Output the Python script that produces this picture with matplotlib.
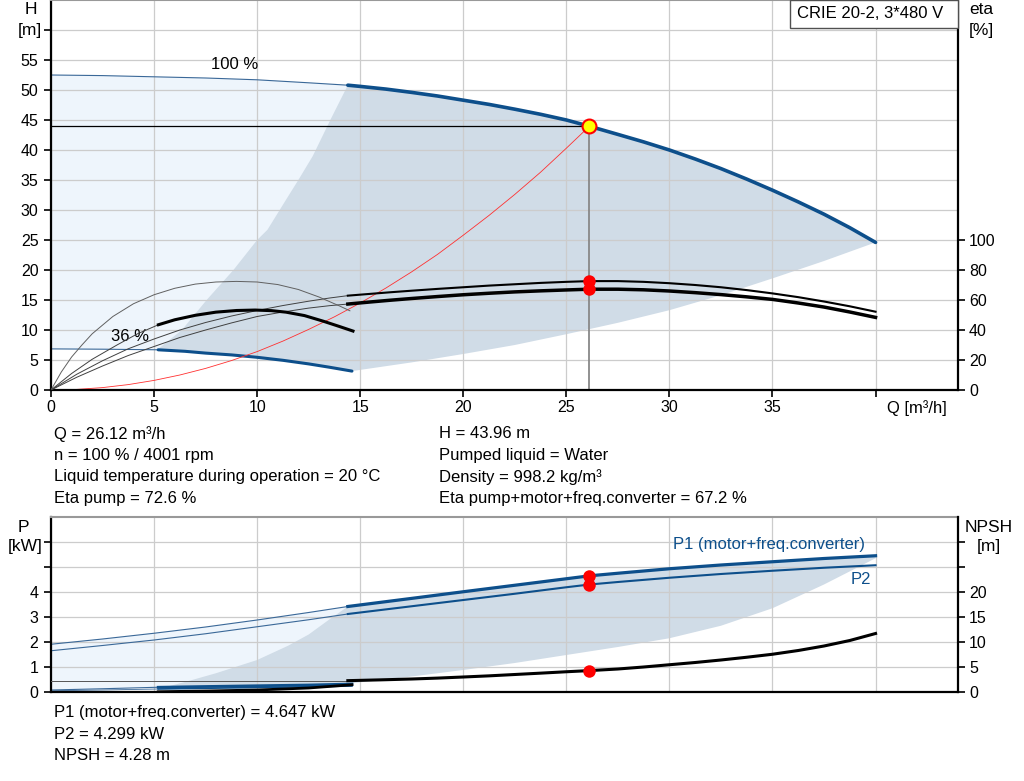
import matplotlib
matplotlib.use("Agg")
import matplotlib.pyplot as plt
import matplotlib.patches as patches

plt.rcParams['font.family'] = ['Liberation Sans', 'DejaVu Sans']

# %%
# Data
# Q-H curve at 100 % speed (thin part = outside allowed range)
q_h100_thin = [0, 2.5, 5, 7.5, 10, 12.5, 14.4]
h100_thin = [52.5, 52.4, 52.2, 52.0, 51.7, 51.2, 50.8]
q_h100 = [14.4, 15, 16.25, 17.5, 18.75, 20, 21.25, 22.5, 23.75, 25, 26.12, 27.5,
          28.75, 30, 31.25, 32.5, 33.75, 35, 36.25, 37.5, 38.75, 40]
h100 = [50.8, 50.6, 50.15, 49.6, 49.0, 48.3, 47.6, 46.8, 45.95, 45.0, 43.96, 42.6,
        41.35, 40.0, 38.5, 36.9, 35.15, 33.3, 31.35, 29.3, 27.05, 24.6]

# Q-H curve at 36 % speed
q_h36_thin = [0, 2.5, 5.2]
h36_thin = [6.85, 6.8, 6.7]
q_h36 = [5.2, 6.5, 7.5, 8.75, 10, 11.25, 12.5, 13.5, 14.6]
h36 = [6.7, 6.45, 6.15, 5.85, 5.45, 4.95, 4.35, 3.8, 3.15]

# operating range boundaries (dark area)
q_bound_left = [5.15, 6.35, 7.55, 8.85, 10.0, 10.5, 11.4, 12.0, 12.7, 13.55, 14.4]
h_bound_left = [6.7, 10.0, 15.0, 20.0, 25.0, 26.7, 31.7, 35.0, 39.0, 45.0, 50.8]
q_bound_low = [14.6, 17.5, 20, 22.5, 25, 27.5, 30, 32.5, 35, 37.5, 40]
h_bound_low = [3.15, 4.6, 6.0, 7.5, 9.3, 11.2, 13.3, 15.8, 18.6, 21.5, 24.6]

# system curve
q_sys = [0, 1.25, 2.5, 3.75, 5, 6.25, 7.5, 8.75, 10, 11.25, 12.5, 13.75, 15, 16.25,
         17.5, 18.75, 20, 21.25, 22.5, 23.75, 25, 26.12]
h_sys = [0, 0.1, 0.4, 0.9, 1.6, 2.5, 3.6, 4.9, 6.4, 8.15, 10.1, 12.2, 14.5, 17.0,
         19.7, 22.6, 25.8, 29.1, 32.6, 36.3, 40.3, 43.96]

# efficiency curves [%]
q_eta_thin = [0, 1.25, 2.5, 3.75, 5, 6.25, 7.5, 8.75, 10, 11.25, 12.5, 13.5, 14.4]
eta_pump_thin = [0, 10.5, 19.5, 27.5, 34, 40, 45, 49.3, 53, 56.3, 59.2, 61.3, 62.9]
eta_tot_thin = [0, 8.5, 16, 23, 29, 35, 40, 44.7, 49, 52, 54.6, 56.2, 57.3]
q_eta = [14.4, 15.5, 16.5, 17.5, 18.75, 20, 21.25, 22.5, 23.75, 25, 26.12, 27.5,
         28.75, 30, 31.25, 32.5, 33.75, 35, 36.25, 37.5, 38.75, 40]
eta_pump = [62.9, 64.1, 65.2, 66.2, 67.4, 68.5, 69.6, 70.5, 71.4, 72.1, 72.6, 72.6,
            72.1, 71.2, 70.0, 68.5, 66.6, 64.4, 61.9, 59.0, 55.8, 52.2]
eta_tot = [57.3, 58.7, 59.9, 61.0, 62.3, 63.5, 64.5, 65.4, 66.1, 66.7, 67.2, 67.2,
           66.8, 66.0, 64.9, 63.6, 62.1, 60.4, 58.0, 55.3, 52.0, 48.4]
q_eta36_pump = [0, 0.5, 1, 1.5, 2, 3, 4, 5, 6, 7, 8, 9, 10, 11, 12, 13, 14, 14.5]
eta36_pump = [0, 12, 22, 30, 37.5, 49, 57.5, 63.5, 67.8, 70.6, 72.0, 72.4, 72.0,
              70.3, 67.0, 62.0, 56.0, 52.8]
q_eta36_thin = [0, 1, 2, 3.2, 4.2, 5.21]
eta36_tot_thin = [0, 11, 20.5, 30, 37.5, 43.5]
q_eta36 = [5.21, 6, 7, 8, 9, 9.9, 10.7, 11.4, 12.3, 13.2, 14, 14.65]
eta36_tot = [43.5, 46.8, 49.8, 51.9, 53.0, 53.3, 52.9, 51.9, 49.6, 45.9, 42.3, 39.3]

# power curves [kW]
q_p_thin = [0, 2.5, 5, 7.5, 10, 12.5, 14.4]
p1_thin = [1.91, 2.12, 2.35, 2.6, 2.88, 3.18, 3.42]
p2_thin = [1.65, 1.86, 2.08, 2.33, 2.61, 2.89, 3.12]
q_p = [14.4, 17.5, 20, 22.5, 25, 26.12, 27.5, 30, 32.5, 35, 37.5, 40]
p1 = [3.42, 3.745, 4.01, 4.27, 4.53, 4.647, 4.75, 4.93, 5.08, 5.21, 5.34, 5.45]
p2 = [3.12, 3.43, 3.68, 3.93, 4.19, 4.299, 4.40, 4.57, 4.72, 4.85, 4.97, 5.07]
q_p36_thin = [0, 2.5, 5.2]
p1_36_thin = [0.08, 0.13, 0.19]
p2_36_thin = [0.05, 0.08, 0.12]
q_p36 = [5.2, 7.5, 10, 12.5, 14.6]
p1_36 = [0.19, 0.22, 0.25, 0.28, 0.32]
p2_36 = [0.12, 0.15, 0.18, 0.21, 0.24]
q_pb_left = [5.2, 6.5, 8, 10, 11.5, 12.5, 13.5, 14.4]
p_b_left = [0.12, 0.4, 0.75, 1.28, 1.85, 2.3, 2.9, 3.42]
q_pb_low = [14.6, 17.5, 20, 22.5, 25, 27.5, 30, 32.5, 35, 37.5, 40]
p_b_low = [0.35, 0.62, 0.88, 1.16, 1.48, 1.8, 2.15, 2.65, 3.35, 4.3, 5.35]

# NPSH [m]
q_npsh_thin = [0, 14.4]
npsh_thin = [2.27, 2.27]
q_npsh = [14.4, 16, 17.5, 18.75, 20, 21.25, 22.5, 23.75, 25, 26.12, 27.5, 28.75,
          30, 31.25, 32.5, 33.75, 35, 36.25, 37.5, 38.75, 40]
npsh = [2.27, 2.43, 2.6, 2.78, 3.0, 3.23, 3.5, 3.77, 4.05, 4.28, 4.6, 5.0,
        5.45, 5.9, 6.4, 6.95, 7.55, 8.3, 9.2, 10.3, 11.7]
npsh36 = [0.05, 0.2, 0.4, 0.8, 1.45]

# duty point
q_op, h_op = 26.12, 43.96
eta_pump_op, eta_tot_op = 72.6, 67.2
p1_op, p2_op, npsh_op = 4.647, 4.299, 4.28

# axis ticks
x_ticks = [0, 5, 10, 15, 20, 25, 30, 35, 40]
x_labels = ['0', '5', '10', '15', '20', '25', '30', '35', '']
h_ticks = list(range(0, 61, 5))
h_labels = [str(v) for v in range(0, 56, 5)] + ['']
eta_ticks = [0, 20, 40, 60, 80, 100]
p_ticks = [0, 1, 2, 3, 4, 5, 6]
p_labels = ['0', '1', '2', '3', '4', '', '']
npsh_ticks = [0, 5, 10, 15, 20, 25, 30]
npsh_labels = ['0', '5', '10', '15', '20', '', '']

info_top_left = ['Q = 26.12 m³/h', 'n = 100 % / 4001 rpm',
                 'Liquid temperature during operation = 20 °C', 'Eta pump = 72.6 %']
info_top_right = ['H = 43.96 m', 'Pumped liquid = Water',
                  'Density = 998.2 kg/m³', 'Eta pump+motor+freq.converter = 67.2 %']
info_bottom = ['P1 (motor+freq.converter) = 4.647 kW', 'P2 = 4.299 kW', 'NPSH = 4.28 m']

# %%
# Styles
BLUE = '#0d4f8b'
THINBLUE = '#3a6898'
LIGHT = '#eef5fc'
DARK = '#d0dce7'
GRID = '#cccccc'
TICKSIZE = 11.5
LABSIZE = 12.5

W, HP = 1024, 781


def fx(x):
    return x / W


def fy(y):
    return 1 - y / HP


fig = plt.figure(figsize=(10.24, 7.81), dpi=100)

# %%
# Top chart: Q-H + efficiency
ax1 = fig.add_axes([fx(51), fy(390), fx(958) - fx(51), fy(0) - fy(390)])
ax1.set_xlim(0, 44)
ax1.set_ylim(0, 65)

ax1.fill(q_h100_thin + q_h36[::-1] + q_h36_thin[::-1],
         h100_thin + h36[::-1] + h36_thin[::-1], color=LIGHT, lw=0, zorder=0.3)
ax1.fill(q_h100 + q_bound_low[::-1] + q_h36[::-1] + q_bound_left,
         h100 + h_bound_low[::-1] + h36[::-1] + h_bound_left,
         color=DARK, lw=0, zorder=0.5)

ax1.plot(q_h100_thin, h100_thin, color=THINBLUE, lw=0.8)
ax1.plot(q_h100, h100, color=BLUE, lw=2.6, solid_capstyle='round')
ax1.plot(q_h36_thin, h36_thin, color=THINBLUE, lw=0.8)
ax1.plot(q_h36, h36, color=BLUE, lw=2.2, solid_capstyle='round')
ax1.plot(q_sys, h_sys, color='#ff3030', lw=0.6)
ax1.plot([0, q_op], [h_op, h_op], color='black', lw=0.9)
ax1.plot([q_op, q_op], [0, h_op], color='#888888', lw=1.3)

ax1.text(8.9, 54.3, '100 %', ha='center', va='center', fontsize=12)
ax1.text(3.83, 9.0, '36 %', ha='center', va='center', fontsize=12)

ax1.set_xticks(x_ticks)
ax1.set_xticklabels(x_labels)
ax1.set_yticks(h_ticks)
ax1.set_yticklabels(h_labels)
ax1.tick_params(axis='both', direction='out', length=5, width=1.2, labelsize=TICKSIZE)
ax1.tick_params(axis='x', pad=2)
ax1.tick_params(axis='y', pad=4)
ax1.grid(True, color=GRID, lw=0.9)
ax1.spines['left'].set_linewidth(1.6)
ax1.spines['bottom'].set_linewidth(1.6)
ax1.spines['top'].set_color('#999999')
ax1.spines['top'].set_linewidth(1.5)
ax1.spines['right'].set_visible(False)

ax1r = ax1.twinx()
ax1r.set_ylim(0, 260)
ax1r.plot(q_eta_thin, eta_pump_thin, color='#404040', lw=0.7)
ax1r.plot(q_eta_thin, eta_tot_thin, color='#404040', lw=0.7)
ax1r.plot(q_eta, eta_pump, color='black', lw=1.5)
ax1r.plot(q_eta, eta_tot, color='black', lw=2.5)
ax1r.plot(q_eta36_pump, eta36_pump, color='#606060', lw=0.7)
ax1r.plot(q_eta36_thin, eta36_tot_thin, color='#404040', lw=0.7)
ax1r.plot(q_eta36, eta36_tot, color='black', lw=2.2)
ax1r.plot([q_op, q_op], [eta_pump_op, eta_tot_op], 'o', ms=9, color='#ff0000', mec='none')
ax1r.plot(q_op, h_op * 4, 'o', ms=10, mfc='#ffff00', mec='#ff0000', mew=1.5, zorder=6)
ax1r.set_yticks(eta_ticks)
ax1r.tick_params(axis='y', direction='out', length=5, width=1.2, labelsize=TICKSIZE, pad=3)
for s in ['left', 'top', 'bottom']:
    ax1r.spines[s].set_visible(False)
ax1r.spines['right'].set_linewidth(1.6)

fig.text(fx(31), fy(10), 'H', ha='center', va='center', fontsize=LABSIZE)
fig.text(fx(30), fy(30), '[m]', ha='center', va='center', fontsize=LABSIZE)
fig.text(fx(981), fy(10), 'eta', ha='center', va='center', fontsize=LABSIZE)
fig.text(fx(981), fy(30), '[%]', ha='center', va='center', fontsize=LABSIZE)
fig.text(fx(887), fy(408), 'Q [m³/h]', ha='left', va='center', fontsize=12)

# model box
box = patches.Rectangle((fx(790), fy(28)), fx(958) - fx(790), fy(0) - fy(28),
                        transform=fig.transFigure, facecolor='white',
                        edgecolor='#505050', lw=1, zorder=5)
fig.add_artist(box)
fig.text(fx(797), fy(14), 'CRIE 20-2, 3*480 V', va='center', fontsize=12, zorder=6)

# %%
# Info text
for i, s in enumerate(info_top_left):
    fig.text(fx(54), fy(434 + i * 21.5), s, va='center', fontsize=12)
for i, s in enumerate(info_top_right):
    fig.text(fx(439), fy(434 + i * 21.5), s, va='center', fontsize=12)
for i, s in enumerate(info_bottom):
    fig.text(fx(54), fy(713 + i * 21.5), s, va='center', fontsize=12)

# %%
# Bottom chart: power + NPSH
ax2 = fig.add_axes([fx(51), fy(692), fx(958) - fx(51), fy(517) - fy(692)])
ax2.set_xlim(0, 44)
ax2.set_ylim(0, 7)

ax2.fill(q_p_thin + q_p36[::-1] + q_p36_thin[::-1],
         p1_thin + p1_36[::-1] + p1_36_thin[::-1], color=LIGHT, lw=0, zorder=0.3)
ax2.fill(q_p + q_pb_low[::-1] + q_p36[::-1] + q_pb_left,
         p1 + p_b_low[::-1] + p2_36[::-1] + p_b_left, color=DARK, lw=0, zorder=0.5)

ax2.plot(q_p_thin, p1_thin, color=THINBLUE, lw=0.8)
ax2.plot(q_p_thin, p2_thin, color=THINBLUE, lw=0.8)
ax2.plot(q_p, p1, color=BLUE, lw=2.3)
ax2.plot(q_p, p2, color=BLUE, lw=1.5)
ax2.plot(q_p36_thin, p1_36_thin, color=THINBLUE, lw=0.8)
ax2.plot(q_p36_thin, p2_36_thin, color=THINBLUE, lw=0.6)
ax2.plot(q_p36, p1_36, color=BLUE, lw=2.0)
ax2.plot(q_p36, p2_36, color=BLUE, lw=1.2)
ax2.plot([q_op, q_op], [p1_op, p2_op], 'o', ms=9, color='#ff0000', mec='none', zorder=6)

ax2.text(39.5, 5.88, 'P1 (motor+freq.converter)', color=BLUE, ha='right', va='center', fontsize=12)
ax2.text(39.8, 4.5, 'P2', color=BLUE, ha='right', va='center', fontsize=12)

ax2.set_xticks(x_ticks)
ax2.tick_params(axis='x', length=0, labelbottom=False)
ax2.set_yticks(p_ticks)
ax2.set_yticklabels(p_labels)
ax2.tick_params(axis='y', direction='out', length=5, width=1.2, labelsize=TICKSIZE, pad=4)
ax2.grid(True, color=GRID, lw=0.9)
ax2.spines['left'].set_linewidth(1.6)
ax2.spines['bottom'].set_linewidth(1.6)
ax2.spines['top'].set_color('#999999')
ax2.spines['top'].set_linewidth(1.5)
ax2.spines['right'].set_visible(False)

ax2r = ax2.twinx()
ax2r.set_ylim(0, 35)
ax2r.plot(q_npsh_thin, npsh_thin, color='#555555', lw=0.7)
ax2r.plot(q_npsh, npsh, color='black', lw=2.2)
ax2r.plot(q_p36, npsh36, color='black', lw=2.0)
ax2r.plot(q_op, npsh_op, 'o', ms=9, color='#ff0000', mec='none', zorder=6)
ax2r.set_yticks(npsh_ticks)
ax2r.set_yticklabels(npsh_labels)
ax2r.tick_params(axis='y', direction='out', length=5, width=1.2, labelsize=TICKSIZE, pad=3)
for s in ['left', 'top', 'bottom']:
    ax2r.spines[s].set_visible(False)
ax2r.spines['right'].set_linewidth(1.6)

fig.text(fx(23), fy(527), 'P', ha='center', va='center', fontsize=LABSIZE)
fig.text(fx(25), fy(547), '[kW]', ha='center', va='center', fontsize=LABSIZE)
fig.text(fx(989), fy(527), 'NPSH', ha='center', va='center', fontsize=LABSIZE)
fig.text(fx(989), fy(547), '[m]', ha='center', va='center', fontsize=LABSIZE)

fig.savefig('out.png', dpi=100)
